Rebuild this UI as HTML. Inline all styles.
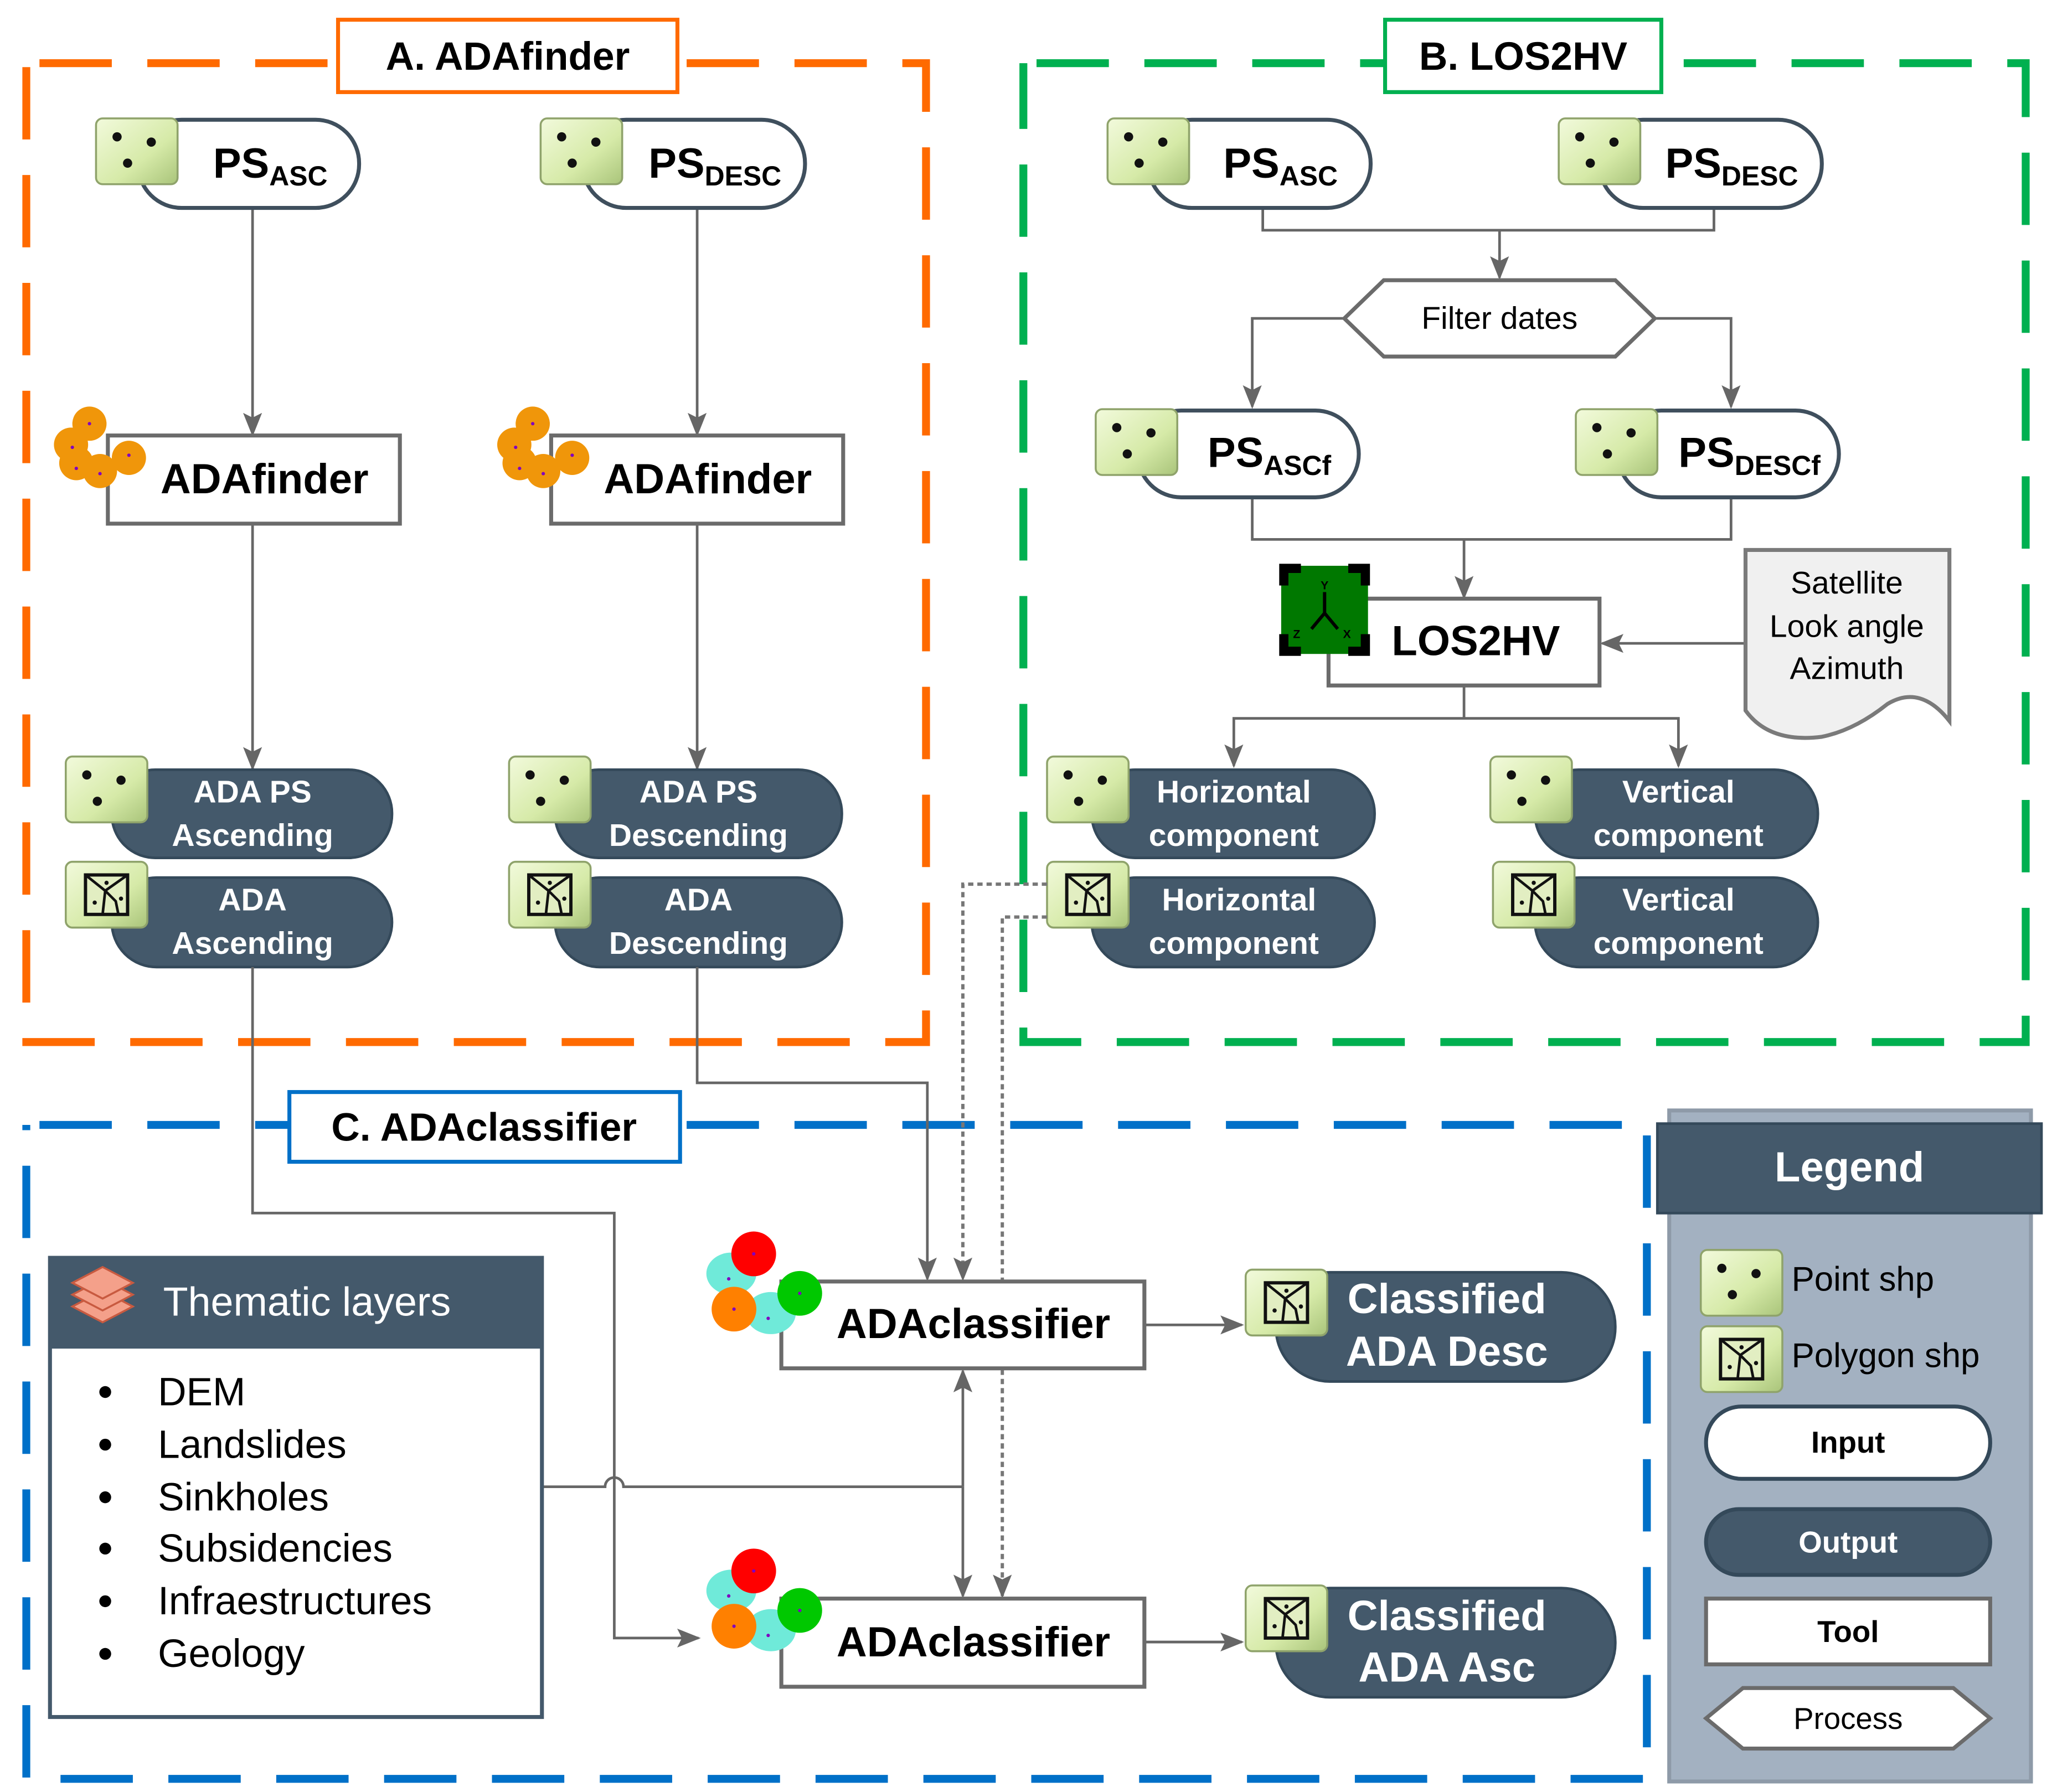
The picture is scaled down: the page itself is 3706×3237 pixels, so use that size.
<!DOCTYPE html>
<html><head><meta charset="utf-8">
<style>
html,body{margin:0;padding:0;background:#fff;}
svg{display:block;}
text{font-family:"Liberation Sans",Arial,sans-serif;}
</style></head>
<body>
<svg width="3706" height="3237" viewBox="0 0 1560 1362" preserveAspectRatio="none" xmlns="http://www.w3.org/2000/svg">
<defs>
<linearGradient id="gg" x1="0" y1="0" x2="1" y2="1">
<stop offset="0" stop-color="#f2fadc"/><stop offset="0.6" stop-color="#d6eaa8"/><stop offset="1" stop-color="#a9c47a"/>
</linearGradient>
<marker id="arb" viewBox="0 0 10 10" refX="9" refY="5" markerWidth="18" markerHeight="18" orient="auto-start-reverse" markerUnits="userSpaceOnUse">
<path d="M0,1 L10,5 L0,9 L2,5 z" fill="#666"/>
</marker>
<g id="pt">
<rect x="0" y="0" width="62" height="50" rx="5" fill="url(#gg)" stroke="#8fa36b" stroke-width="1.5"/>
<circle cx="16" cy="14" r="3.5" fill="#111"/><circle cx="42" cy="18" r="3.5" fill="#111"/><circle cx="24" cy="34" r="3.5" fill="#111"/>
</g>
<g id="pg">
<rect x="0" y="0" width="62" height="50" rx="5" fill="url(#gg)" stroke="#8fa36b" stroke-width="1.5"/>
<rect x="15" y="10" width="32" height="30" fill="#e2eec2" stroke="#111" stroke-width="2.5"/>
<path d="M15,10 L30,22 L47,10 M30,22 L28,40 M30,22 L38,30 L40,40" fill="none" stroke="#111" stroke-width="2"/>
<circle cx="31" cy="16" r="1.6" fill="#111"/><circle cx="22" cy="31" r="1.6" fill="#111"/><circle cx="42" cy="28" r="1.6" fill="#111"/>
</g>
<g id="blob">
<circle cx="30" cy="14" r="13" fill="#f0960a"/><circle cx="16" cy="30" r="13" fill="#f0960a"/><circle cx="20" cy="44" r="13" fill="#f0960a"/>
<circle cx="38" cy="50" r="13" fill="#f0960a"/><circle cx="60" cy="40" r="13" fill="#f0960a"/>
<circle cx="30" cy="14" r="1.3" fill="#8000c0"/><circle cx="17" cy="32" r="1.3" fill="#8000c0"/><circle cx="20" cy="48" r="1.3" fill="#8000c0"/><circle cx="38" cy="52" r="1.3" fill="#8000c0"/><circle cx="60" cy="38" r="1.3" fill="#8000c0"/>
</g>
<g id="circ">
<ellipse cx="20" cy="32" rx="19" ry="16" fill="#6fead9"/>
<ellipse cx="50" cy="62" rx="19" ry="16" fill="#6fead9"/>
<ellipse cx="37" cy="17" rx="17" ry="17" fill="#f00"/>
<ellipse cx="72" cy="47" rx="17" ry="17" fill="#00c800"/>
<ellipse cx="22" cy="59" rx="17" ry="17" fill="#ff8000"/>
<circle cx="37" cy="17" r="1.3" fill="#8000c0"/><circle cx="72" cy="47" r="1.3" fill="#8000c0"/><circle cx="22" cy="59" r="1.3" fill="#8000c0"/><circle cx="18" cy="36" r="1.3" fill="#8000c0"/><circle cx="48" cy="66" r="1.3" fill="#8000c0"/>
</g>
</defs>

<rect x="20" y="48" width="684" height="744" fill="none" stroke="#ff6a00" stroke-width="6" stroke-dasharray="55,27" stroke-dashoffset="-10"/>
<rect x="778" y="48" width="762" height="744" fill="none" stroke="#00b050" stroke-width="6" stroke-dasharray="55,27" stroke-dashoffset="-10"/>
<rect x="20" y="855" width="1232" height="497" fill="none" stroke="#0070c8" stroke-width="6" stroke-dasharray="55,27" stroke-dashoffset="-10"/>

<rect x="257" y="15" width="258" height="55" fill="#fff" stroke="#ff6a00" stroke-width="3"/>
<text x="386" y="53" font-size="30" font-weight="bold" text-anchor="middle">A. ADAfinder</text>
<rect x="1053" y="15" width="210" height="55" fill="#fff" stroke="#00b050" stroke-width="3"/>
<text x="1158" y="53" font-size="30" font-weight="bold" text-anchor="middle">B. LOS2HV</text>
<rect x="220" y="830" width="297" height="53" fill="#fff" stroke="#0070c8" stroke-width="3"/>
<text x="368" y="867" font-size="30" font-weight="bold" text-anchor="middle">C. ADAclassifier</text>

<g stroke="#666" stroke-width="2" fill="none">
<path d="M192,158 V330" marker-end="url(#arb)"/>
<path d="M530,158 V330" marker-end="url(#arb)"/>
<path d="M192,398 V584" marker-end="url(#arb)"/>
<path d="M530,398 V584" marker-end="url(#arb)"/>
</g>
<rect x="105" y="91" width="168" height="67" rx="33" fill="#fff" stroke="#3f4f5d" stroke-width="3"/>
<use href="#pt" x="73" y="90"/>
<text x="162" y="135" font-size="32" font-weight="bold">PS<tspan font-size="21" dy="6">ASC</tspan></text>
<rect x="443" y="91" width="169" height="67" rx="33" fill="#fff" stroke="#3f4f5d" stroke-width="3"/>
<use href="#pt" x="411" y="90"/>
<text x="493" y="135" font-size="32" font-weight="bold">PS<tspan font-size="21" dy="6">DESC</tspan></text>

<rect x="82" y="331" width="222" height="67" fill="#fff" stroke="#6b6b6b" stroke-width="3"/>
<use href="#blob" x="38" y="308"/>
<text x="122" y="375" font-size="32" font-weight="bold">ADAfinder</text>
<rect x="419" y="331" width="222" height="67" fill="#fff" stroke="#6b6b6b" stroke-width="3"/>
<use href="#blob" x="375" y="308"/>
<text x="459" y="375" font-size="32" font-weight="bold">ADAfinder</text>

<g fill="#44596b" stroke="#34495a" stroke-width="2">
<rect x="85" y="585" width="213" height="67" rx="33"/>
<rect x="85" y="667" width="213" height="68" rx="34"/>
<rect x="422" y="585" width="218" height="67" rx="33"/>
<rect x="422" y="667" width="218" height="68" rx="34"/>
</g>
<use href="#pt" x="50" y="575"/>
<use href="#pg" x="50" y="655"/>
<use href="#pt" x="387" y="575"/>
<use href="#pg" x="387" y="655"/>
<g fill="#fff" font-size="24" font-weight="bold" text-anchor="middle">
<text x="192" y="610">ADA PS</text><text x="192" y="643">Ascending</text>
<text x="192" y="692">ADA</text><text x="192" y="725">Ascending</text>
<text x="531" y="610">ADA PS</text><text x="531" y="643">Descending</text>
<text x="531" y="692">ADA</text><text x="531" y="725">Descending</text>
</g>

<g stroke="#666" stroke-width="2" fill="none">
<path d="M960,158 V175 H1303 V158"/>
<path d="M1140,175 V211" marker-end="url(#arb)"/>
<path d="M1022,242 H952 V309" marker-end="url(#arb)"/>
<path d="M1258,242 H1316 V309" marker-end="url(#arb)"/>
<path d="M952,378 V410 H1316 V378"/>
<path d="M1113,410 V454" marker-end="url(#arb)"/>
<path d="M1327,489 H1218" marker-end="url(#arb)"/>
<path d="M1113,521 V546 H938 V582" marker-end="url(#arb)"/>
<path d="M1113,546 H1276 V582" marker-end="url(#arb)"/>
</g>
<rect x="873" y="91" width="169" height="67" rx="33" fill="#fff" stroke="#3f4f5d" stroke-width="3"/>
<use href="#pt" x="842" y="90"/>
<text x="930" y="135" font-size="32" font-weight="bold">PS<tspan font-size="21" dy="6">ASC</tspan></text>
<rect x="1216" y="91" width="169" height="67" rx="33" fill="#fff" stroke="#3f4f5d" stroke-width="3"/>
<use href="#pt" x="1185" y="90"/>
<text x="1266" y="135" font-size="32" font-weight="bold">PS<tspan font-size="21" dy="6">DESC</tspan></text>

<path d="M1022,242 L1052,213 H1228 L1258,242 L1228,271 H1052 Z" fill="#fff" stroke="#6b6b6b" stroke-width="3"/>
<text x="1140" y="250" font-size="24" text-anchor="middle">Filter dates</text>

<rect x="865" y="312" width="168" height="66" rx="33" fill="#fff" stroke="#3f4f5d" stroke-width="3"/>
<use href="#pt" x="833" y="311"/>
<text x="918" y="355" font-size="32" font-weight="bold">PS<tspan font-size="21" dy="6">ASCf</tspan></text>
<rect x="1230" y="312" width="168" height="66" rx="33" fill="#fff" stroke="#3f4f5d" stroke-width="3"/>
<use href="#pt" x="1198" y="311"/>
<text x="1276" y="355" font-size="32" font-weight="bold">PS<tspan font-size="21" dy="6">DESCf</tspan></text>

<rect x="1010" y="455" width="206" height="66" fill="#fff" stroke="#6b6b6b" stroke-width="3"/>
<rect x="974" y="430" width="66" height="67" rx="7" fill="#007800"/>
<path d="M976,445 V432 H989 M1025,432 H1038 V445 M976,482 V495 H989 M1025,495 H1038 V482" fill="none" stroke="#000" stroke-width="7"/>
<path d="M1007,450 V466 L997,478 M1007,466 L1017,478" fill="none" stroke="#000" stroke-width="2.5"/>
<text x="1004" y="448" font-size="9" font-weight="bold">Y</text>
<text x="983" y="485" font-size="9" font-weight="bold">Z</text>
<text x="1021" y="485" font-size="9" font-weight="bold">X</text>
<text x="1058" y="498" font-size="32" font-weight="bold">LOS2HV</text>

<path d="M1327,418 H1482 V548 Q1460,520 1435,535 Q1410,555 1385,560 Q1345,565 1327,540 Z" fill="#f0f0f0" stroke="#7a7a7a" stroke-width="3"/>
<g font-size="24" text-anchor="middle"><text x="1404" y="451">Satellite</text><text x="1404" y="484">Look angle</text><text x="1404" y="516">Azimuth</text></g>

<g fill="#44596b" stroke="#34495a" stroke-width="2">
<rect x="830" y="585" width="215" height="67" rx="33"/>
<rect x="830" y="667" width="215" height="68" rx="34"/>
<rect x="1167" y="585" width="215" height="67" rx="33"/>
<rect x="1167" y="667" width="215" height="68" rx="34"/>
</g>
<use href="#pt" x="796" y="575"/>
<use href="#pg" x="796" y="655"/>
<use href="#pt" x="1133" y="575"/>
<use href="#pg" x="1135" y="655"/>
<g fill="#fff" font-size="24" font-weight="bold" text-anchor="middle">
<text x="938" y="610">Horizontal</text><text x="938" y="643">component</text>
<text x="942" y="692">Horizontal</text><text x="938" y="725">component</text>
<text x="1276" y="610">Vertical</text><text x="1276" y="643">component</text>
<text x="1276" y="692">Vertical</text><text x="1276" y="725">component</text>
</g>

<g stroke="#666" stroke-width="2" fill="none">
<path d="M192,735 V922 H467 V1245 H531" marker-end="url(#arb)"/>
<path d="M530,735 V823 H705 V972" marker-end="url(#arb)"/>
<path d="M412,1130 H460 A7,7 0 0 1 474,1130 H732"/>
<path d="M732,1130 V1042" marker-end="url(#arb)"/>
<path d="M732,1130 V1213" marker-end="url(#arb)"/>
<path d="M870,1007 H944" marker-end="url(#arb)"/>
<path d="M870,1248 H944" marker-end="url(#arb)"/>
</g>
<g stroke="#777" stroke-width="2.5" fill="none" stroke-dasharray="4,3">
<path d="M796,672 H732 V972" marker-end="url(#arb)"/>
<path d="M796,697 H762 V1213" marker-end="url(#arb)"/>
</g>

<rect x="38" y="956" width="374" height="349" fill="#fff" stroke="#44596b" stroke-width="3"/>
<rect x="38" y="956" width="374" height="69" fill="#44596b"/>
<g fill="#f4a08a" stroke="#c85a40" stroke-width="1.5">
<path d="M55,993 L78,981 L101,993 L78,1005 Z"/>
<path d="M55,984 L78,972 L101,984 L78,996 Z"/>
<path d="M55,975 L78,963 L101,975 L78,987 Z"/>
</g>
<text x="124" y="1000" font-size="31" fill="#fff">Thematic layers</text>
<g font-size="30">
<circle cx="80" cy="1058" r="4.5"/><text x="120" y="1068">DEM</text>
<circle cx="80" cy="1098" r="4.5"/><text x="120" y="1108">Landslides</text>
<circle cx="80" cy="1138" r="4.5"/><text x="120" y="1148">Sinkholes</text>
<circle cx="80" cy="1177" r="4.5"/><text x="120" y="1187">Subsidencies</text>
<circle cx="80" cy="1217" r="4.5"/><text x="120" y="1227">Infraestructures</text>
<circle cx="80" cy="1257" r="4.5"/><text x="120" y="1267">Geology</text>
</g>

<rect x="594" y="974" width="276" height="66" fill="#fff" stroke="#6b6b6b" stroke-width="3"/>
<use href="#circ" x="536" y="936"/>
<text x="636" y="1017" font-size="32" font-weight="bold">ADAclassifier</text>
<rect x="594" y="1215" width="276" height="67" fill="#fff" stroke="#6b6b6b" stroke-width="3"/>
<use href="#circ" x="536" y="1177"/>
<text x="636" y="1259" font-size="32" font-weight="bold">ADAclassifier</text>

<g fill="#44596b" stroke="#34495a" stroke-width="2">
<rect x="970" y="967" width="258" height="83" rx="41"/>
<rect x="970" y="1207" width="258" height="83" rx="41"/>
</g>
<use href="#pg" x="947" y="965"/>
<use href="#pg" x="947" y="1205"/>
<g fill="#fff" font-size="32" font-weight="bold" text-anchor="middle">
<text x="1100" y="998">Classified</text><text x="1100" y="1038">ADA Desc</text>
<text x="1100" y="1239">Classified</text><text x="1100" y="1278">ADA Asc</text>
</g>

<rect x="1269" y="844" width="275" height="510" fill="#a3b1c1" stroke="#8e9aa8" stroke-width="3"/>
<rect x="1260" y="854" width="292" height="68" fill="#44596b" stroke="#34495a" stroke-width="2"/>
<text x="1406" y="898" font-size="32" font-weight="bold" fill="#fff" text-anchor="middle">Legend</text>
<use href="#pt" x="1293" y="950"/>
<text x="1362" y="981" font-size="26">Point shp</text>
<use href="#pg" x="1293" y="1008"/>
<text x="1362" y="1039" font-size="26">Polygon shp</text>
<rect x="1297" y="1069" width="216" height="55" rx="27" fill="#fff" stroke="#34495a" stroke-width="3"/>
<text x="1405" y="1104" font-size="23" font-weight="bold" text-anchor="middle">Input</text>
<rect x="1297" y="1147" width="216" height="50" rx="25" fill="#44596b" stroke="#34495a" stroke-width="3"/>
<text x="1405" y="1180" font-size="23" font-weight="bold" fill="#fff" text-anchor="middle">Output</text>
<rect x="1297" y="1215" width="216" height="50" fill="#fff" stroke="#6b6b6b" stroke-width="3"/>
<text x="1405" y="1248" font-size="23" font-weight="bold" text-anchor="middle">Tool</text>
<path d="M1297,1306 L1325,1283 H1485 L1513,1306 L1485,1329 H1325 Z" fill="#fff" stroke="#6b6b6b" stroke-width="3"/>
<text x="1405" y="1314" font-size="23" text-anchor="middle">Process</text>
</svg>
</body></html>
